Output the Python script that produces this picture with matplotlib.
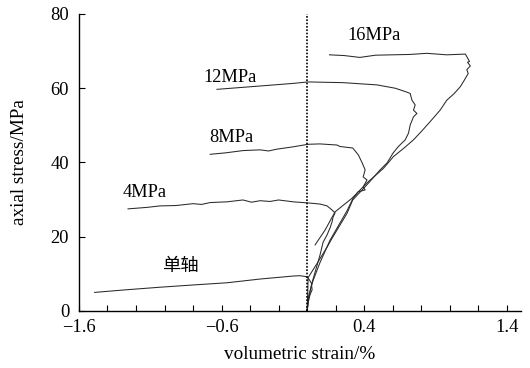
import matplotlib
matplotlib.use("Agg")
import matplotlib.pyplot as plt
from matplotlib.ticker import MultipleLocator, FixedLocator

plt.rcParams['font.family'] = ['Liberation Serif', 'Noto Sans CJK SC', 'DejaVu Sans']

# ---- data (volumetric strain %, axial stress MPa) ----
uni_x = [0.0, 0.007, 0.02, 0.035, 0.03, 0.007, -0.014, -0.05, -0.10, -0.33, -0.56, -0.80, -1.03, -1.27, -1.49]
uni_y = [0.0, 2.2, 4.3, 5.7, 7.5, 8.9, 9.3, 9.5, 9.4, 8.6, 7.6, 7.0, 6.4, 5.7, 5.0]

p4_x = [0.0, 0.01, 0.03, 0.06, 0.09, 0.112, 0.14, 0.161, 0.175, 0.182, 0.196, 0.175, 0.14, 0.091, 0.007,
        -0.098, -0.20, -0.26, -0.33, -0.39, -0.45, -0.561, -0.68, -0.74, -0.80, -0.92, -1.032, -1.123, -1.256]
p4_y = [0.0, 3.0, 7.0, 11.0, 15.0, 18.5, 20.5, 22.4, 24.0, 25.3, 26.4, 27.2, 28.3, 28.8, 29.1,
        29.4, 29.9, 29.5, 29.7, 29.3, 29.9, 29.4, 29.2, 28.7, 28.9, 28.4, 28.3, 27.9, 27.5]

p8_x = [0.0, 0.01, 0.04, 0.09, 0.16, 0.22, 0.28, 0.323, 0.358, 0.407, 0.393, 0.42, 0.393, 0.407, 0.386,
        0.36, 0.32, 0.23, 0.21, 0.09, 0.007, -0.10, -0.21, -0.27, -0.33, -0.45, -0.57, -0.68]
p8_y = [0.0, 4.0, 8.0, 13.0, 19.0, 23.0, 27.0, 30.4, 32.1, 32.6, 33.4, 35.3, 36.1, 38.0, 39.9,
        42.0, 43.9, 44.3, 44.7, 45.0, 44.9, 44.2, 43.6, 43.1, 43.4, 43.2, 42.6, 42.2]

p12_x = [0.0, 0.004, 0.007, 0.07, 0.14, 0.18, 0.28, 0.32, 0.42, 0.512, 0.561, 0.604, 0.64, 0.688, 0.711,
         0.723, 0.746, 0.77, 0.746, 0.758, 0.735, 0.723, 0.688, 0.618, 0.49, 0.253, 0.007, -0.098,
         -0.33, -0.632]
p12_y = [0.0, 4.0, 9.0, 12.8, 17.2, 19.9, 26.3, 29.9, 34.0, 38.0, 39.9, 42.6, 44.3, 46.1, 47.9,
         50.1, 52.3, 53.2, 54.1, 55.5, 56.8, 58.6, 59.1, 60.0, 60.9, 61.5, 61.7, 61.3,
         60.6, 59.7]

p16_x = [0.056, 0.126, 0.196, 0.316, 0.42, 0.535, 0.606, 0.68, 0.746, 0.80, 0.863, 0.933, 0.98,
         1.03, 1.074, 1.10, 1.13, 1.12, 1.145, 1.125, 1.139, 1.11, 0.98, 0.84, 0.72, 0.60,
         0.48, 0.37, 0.26, 0.157]
p16_y = [17.8, 21.8, 26.7, 30.4, 34.5, 38.4, 41.6, 43.9, 46.1, 48.3, 51.0, 54.1, 56.8,
         58.5, 60.4, 62.0, 64.0, 65.0, 66.0, 67.0, 67.2, 69.2, 69.0, 69.4, 69.1, 69.0,
         68.9, 68.3, 68.8, 69.0]

labels = ['单轴', '4MPa', '8MPa', '12MPa', '16MPa']
label_x = [-0.89, -1.14, -0.53, -0.54, 0.47]
label_y = [12.0, 32.0, 46.6, 63.0, 74.2]

x_ticks = [-1.6, -0.6, 0.4, 1.4]
x_tick_labels = ['\u22121.6', '\u22120.6', '0.4', '1.4']
y_ticks = [0, 20, 40, 60, 80]

# ---- figure ----
fig = plt.figure(figsize=(5.30, 3.68), dpi=100)
ax = fig.add_axes([0.149, 0.155, 0.834, 0.807])

lc = '#2a2a2a'
for xs, ys in [(uni_x, uni_y), (p4_x, p4_y), (p8_x, p8_y), (p12_x, p12_y), (p16_x, p16_y)]:
    ax.plot(xs, ys, color=lc, lw=0.75)

ax.plot([0, 0], [0, 80], color='black', lw=1.2, linestyle=(0, (1, 1)))

for t, lx, ly in zip(labels, label_x, label_y):
    ax.text(lx, ly, t, ha='center', va='center', fontsize=13.2)

ax.set_xlim(-1.6, 1.5)
ax.set_ylim(0, 80)
ax.xaxis.set_major_locator(FixedLocator(x_ticks))
ax.xaxis.set_minor_locator(MultipleLocator(0.2))
ax.yaxis.set_major_locator(FixedLocator(y_ticks))
ax.set_xticklabels(x_tick_labels)
ax.tick_params(axis='both', which='both', direction='in', length=4, width=0.8, labelsize=13.3)
ax.tick_params(axis='x', pad=6)
ax.tick_params(axis='y', pad=7)
for s in ['top', 'right']:
    ax.spines[s].set_visible(False)
for s in ['left', 'bottom']:
    ax.spines[s].set_linewidth(1.0)

ax.set_xlabel('volumetric strain/%', fontsize=13.8)
ax.set_ylabel('axial stress/MPa', fontsize=13.8)
ax.xaxis.set_label_coords(0.5, -0.118)
ax.yaxis.set_label_coords(-0.115, 0.5)

fig.savefig('out.png', dpi=100)
